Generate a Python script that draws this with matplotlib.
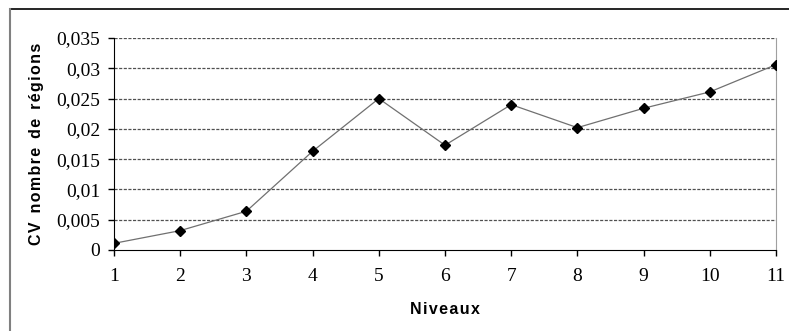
import matplotlib.pyplot as plt
from matplotlib.lines import Line2D
from matplotlib.ticker import FuncFormatter

niveaux = [1, 2, 3, 4, 5, 6, 7, 8, 9, 10, 11]
cv_regions = [0.0011, 0.0032, 0.0064, 0.0163, 0.0250, 0.0173,
              0.0240, 0.0202, 0.0234, 0.0261, 0.0306]
yticks = [0, 0.005, 0.01, 0.015, 0.02, 0.025, 0.03, 0.035]


def spaced(s):
    # Excel-ish wide letter spacing
    return '\u200a'.join(s)


fig = plt.figure(figsize=(7.89, 3.31), dpi=100)
ax = fig.add_axes([114 / 789, 1 - 250 / 331, (776 - 114) / 789, (250 - 38) / 331])

# frame of the chart object (only top and left show)
fig.add_artist(Line2D([10 / 789, 1], [1 - 9 / 331] * 2, transform=fig.transFigure,
                      color='black', lw=1.2))
fig.add_artist(Line2D([10 / 789] * 2, [0, 1 - 9 / 331], transform=fig.transFigure,
                      color='#808080', lw=1.5))

for y in yticks[1:]:
    ax.axhline(y, color='#505050', lw=0.9, ls=(0, (2.5, 1.2)), zorder=1)

ax.plot(niveaux, cv_regions, color='#707070', lw=0.9, zorder=2)
ax.plot(niveaux, cv_regions, ls='none', marker='D', ms=5, color='black', zorder=3)

ax.set_xlim(1, 11)
ax.set_ylim(0, 0.035)
ax.set_xticks(niveaux)
ax.set_yticks(yticks)
ax.yaxis.set_major_formatter(FuncFormatter(
    lambda v, p: '0' if v == 0 else ('%g' % round(v, 4)).replace('.', ',')))

ax.tick_params(axis='both', direction='out', length=4, width=1, color='black',
               labelsize=14, labelfontfamily='Liberation Serif')
ax.tick_params(axis='x', pad=9)
ax.tick_params(axis='y', pad=6)

ax.spines['top'].set_visible(False)
ax.spines['right'].set_color('#a0a0a0')
ax.spines['right'].set_linestyle((0, (2, 1)))
ax.spines['left'].set_color('black')
ax.spines['bottom'].set_color('black')

ax.set_xlabel(spaced('Niveaux'), fontfamily='Liberation Sans',
              fontweight='bold', fontsize=11.5, labelpad=12)
ax.set_ylabel(spaced('CV') + '  ' + spaced('nombre') + '  ' + spaced('de') + '  ' + spaced('régions'),
              fontfamily='Liberation Sans', fontweight='bold', fontsize=11.5, labelpad=9)

fig.savefig('out.png', dpi=100)
